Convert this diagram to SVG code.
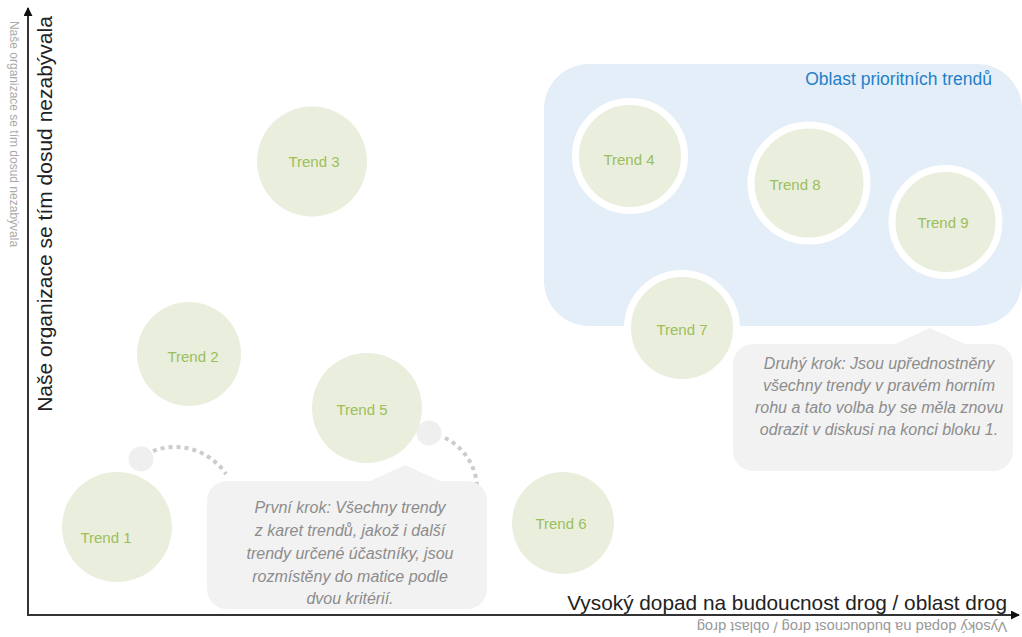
<svg xmlns="http://www.w3.org/2000/svg" width="1022" height="637" viewBox="0 0 1022 637">
<style>
.bg{fill:#ffffff}
.trend{fill:#eaeedd}
.ring{fill:#eaeedd;stroke:#ffffff;stroke-width:7}
.tl{font-family:"Liberation Sans",Arial,sans-serif;font-size:15px;fill:#9bbf5b;text-anchor:middle}
.callout{fill:#f2f2f2}
.ct{font-family:"Liberation Sans",Arial,sans-serif;font-size:16px;font-style:italic;fill:#8c8c8c;text-anchor:middle}
.axis{stroke:#333333;stroke-width:2;fill:none}
.dots{fill:none;stroke:#cccccc;stroke-width:4;stroke-dasharray:4 4}
.bubble{fill:#efefef}
</style>
<defs>
<marker id="arr" viewBox="0 0 10 10" refX="9" refY="5" markerWidth="9" markerHeight="9" markerUnits="userSpaceOnUse" orient="auto">
<path d="M0,0 L10,5 L0,10 z" fill="#111111"/>
</marker>
</defs>
<rect class="bg" x="0" y="0" width="1022" height="637"/>

<g id="priority-area">
<rect x="544" y="64" width="478" height="262" rx="45" ry="45" fill="#e4eef8"/>
<text x="992" y="85" font-family="Liberation Sans, Arial, sans-serif" font-size="17.5" fill="#1f7fc7" text-anchor="end">Oblast prioritních trendů</text>
</g>

<g id="connectors">
<line class="axis" x1="28" y1="616" x2="28" y2="8" marker-end="url(#arr)"/>
<line class="axis" x1="27" y1="615" x2="1019" y2="615" marker-end="url(#arr)"/>
<path class="dots" d="M153,451 A62,62 0 0 1 226,474"/>
<path class="dots" d="M445,438 A57,57 0 0 1 477,486"/>
</g>

<g id="axis-labels">
<text x="52" y="214" transform="rotate(-90 52 214)" font-family="Liberation Sans, Arial, sans-serif" font-size="21" fill="#222222" text-anchor="middle">Naše organizace se tím dosud nezabývala</text>
<text x="10" y="134" transform="rotate(90 10 134)" font-family="Liberation Sans, Arial, sans-serif" font-size="12" fill="#aaaaaa" text-anchor="middle">Naše organizace se tím dosud nezabývala</text>
<text x="1007" y="610" font-family="Liberation Sans, Arial, sans-serif" font-size="20.8" fill="#222222" text-anchor="end">Vysoký dopad na budoucnost drog / oblast drog</text>
<text x="852" y="622" transform="rotate(180 852 622)" font-family="Liberation Sans, Arial, sans-serif" font-size="14.7" fill="#999999" text-anchor="middle">Vysoký dopad na budoucnost drog / oblast drog</text>
</g>

<g id="bubble-1"><circle class="bubble" cx="141" cy="459" r="12.5"/></g>
<g id="bubble-2"><circle class="bubble" cx="429" cy="433" r="12.5"/></g>

<g id="trend-3"><circle class="trend" cx="312" cy="161.5" r="55"/><text class="tl" x="314" y="167">Trend 3</text></g>
<g id="trend-2"><circle class="trend" cx="189" cy="354" r="52"/><text class="tl" x="193" y="362">Trend 2</text></g>
<g id="trend-5"><circle class="trend" cx="367" cy="408" r="55"/><text class="tl" x="362" y="415">Trend 5</text></g>
<g id="trend-1"><circle class="trend" cx="117" cy="527" r="55"/><text class="tl" x="106" y="543">Trend 1</text></g>
<g id="trend-6"><circle class="trend" cx="563" cy="523" r="51"/><text class="tl" x="561" y="529">Trend 6</text></g>

<g id="trend-4"><circle class="ring" cx="630" cy="156" r="54.5"/><text class="tl" x="629" y="165">Trend 4</text></g>
<g id="trend-8"><circle class="ring" cx="809" cy="183" r="58"/><text class="tl" x="795" y="190">Trend 8</text></g>
<g id="trend-9"><circle class="ring" cx="945.5" cy="222" r="53.5"/><text class="tl" x="943" y="228">Trend 9</text></g>
<g id="trend-7"><circle class="ring" cx="682" cy="328" r="54.5"/><text class="tl" x="682" y="335">Trend 7</text></g>

<g id="callout-1">
<path class="callout" d="M227,481 H370 L405,465 L440,481 H467 A20,20 0 0 1 487,501 V589 A20,20 0 0 1 467,609 H227 A20,20 0 0 1 207,589 V501 A20,20 0 0 1 227,481 Z"/>
<text class="ct" x="350" y="512.5">První krok: Všechny trendy</text>
<text class="ct" x="350" y="535.5">z karet trendů, jakož i další</text>
<text class="ct" x="350" y="558.5">trendy určené účastníky, jsou</text>
<text class="ct" x="350" y="581.5">rozmístěny do matice podle</text>
<text class="ct" x="350" y="604">dvou kritérií.</text>
</g>

<g id="callout-2">
<path class="callout" d="M753,344 H895 L930,328 L965,344 H993 A20,20 0 0 1 1013,364 V451 A20,20 0 0 1 993,471 H753 A20,20 0 0 1 733,451 V364 A20,20 0 0 1 753,344 Z"/>
<text class="ct" x="879" y="368.5">Druhý krok: Jsou upřednostněny</text>
<text class="ct" x="879" y="390.5">všechny trendy v pravém horním</text>
<text class="ct" x="879" y="412.5">rohu a tato volba by se měla znovu</text>
<text class="ct" x="879" y="434.5">odrazit v diskusi na konci bloku 1.</text>
</g>
</svg>
